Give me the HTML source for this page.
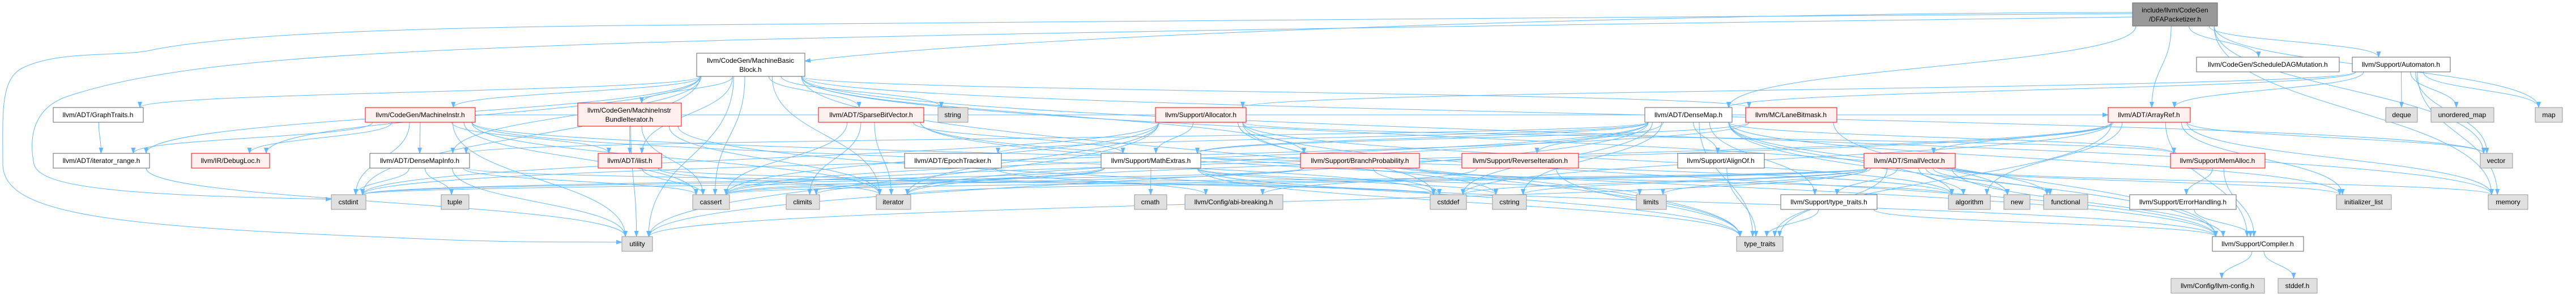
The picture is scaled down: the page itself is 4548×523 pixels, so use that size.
<!DOCTYPE html>
<html><head><meta charset="utf-8"><style>
html,body{margin:0;padding:0;background:#fff;width:4548px;height:523px;overflow:hidden}
svg text{font-family:"Liberation Sans",sans-serif;font-size:12px;fill:#000;text-anchor:middle}
</style></head><body>
<svg id="g" width="4548" height="523" viewBox="0 0 4548 523" xmlns="http://www.w3.org/2000/svg">
<defs><marker id="ah" markerUnits="userSpaceOnUse" markerWidth="11" markerHeight="8" refX="10" refY="4" orient="auto"><path d="M0,0 L11,4 L0,8 z" fill="#63b8ff"/></marker></defs>
<g fill="none" stroke="#63b8ff" stroke-width="1">
<path d="M3765,24 C3000,30 1500,40 1100,45 C700,50 400,60 260,90 C200,100 100,90 40,120 C0,140 5,200 5,290 C5,380 200,400 700,420 C900,430 1050,427 1098,428" marker-end="url(#ah)"/>
<path d="M3765,30 C3000,40 1500,60 1000,80 C600,95 300,110 120,170 C60,190 50,240 60,290 C70,330 200,345 585,352" marker-end="url(#ah)"/>
<path d="M3765,22 C3000,22 1800,60 1421,108" marker-end="url(#ah)"/>
</g>
<g id="edges" fill="none" stroke="#63b8ff" stroke-width="1"></g>
<g id="nodes">
<rect id="root" x="3765" y="5" width="150" height="41" fill="#999999" stroke="#666666"/><text x="3840" y="22">include/llvm/CodeGen</text><text x="3840" y="38">/DFAPacketizer.h</text>
<rect id="mbb" x="1230" y="94" width="191" height="41" fill="#fff" stroke="#666"/><text x="1325" y="111">llvm/CodeGen/MachineBasic</text><text x="1325" y="127">Block.h</text>
<rect id="sdm" x="3878" y="101" width="252" height="26" fill="#fff" stroke="#666"/><text x="4004" y="118">llvm/CodeGen/ScheduleDAGMutation.h</text>
<rect id="auto" x="4153" y="101" width="173" height="26" fill="#fff" stroke="#666"/><text x="4239" y="118">llvm/Support/Automaton.h</text>
<rect id="graph" x="94" y="190" width="159" height="26" fill="#fff" stroke="#666"/><text x="173" y="207">llvm/ADT/GraphTraits.h</text>
<rect id="mi" x="645" y="190" width="194" height="26" fill="#fff0f0" stroke="#ff0000"/><text x="742" y="207">llvm/CodeGen/MachineInstr.h</text>
<rect id="sbv" x="1445" y="190" width="186" height="26" fill="#fff0f0" stroke="#ff0000"/><text x="1538" y="207">llvm/ADT/SparseBitVector.h</text>
<rect id="string" x="1656" y="190" width="53" height="26" fill="#e0e0e0" stroke="#999"/><text x="1682" y="207">string</text>
<rect id="alloc" x="2040" y="190" width="160" height="26" fill="#fff0f0" stroke="#ff0000"/><text x="2120" y="207">llvm/Support/Allocator.h</text>
<rect id="dmap" x="2904" y="190" width="154" height="26" fill="#fff" stroke="#666"/><text x="2981" y="207">llvm/ADT/DenseMap.h</text>
<rect id="lane" x="3082" y="190" width="161" height="26" fill="#fff0f0" stroke="#ff0000"/><text x="3162" y="207">llvm/MC/LaneBitmask.h</text>
<rect id="aref" x="3722" y="190" width="145" height="26" fill="#fff0f0" stroke="#ff0000"/><text x="3794" y="207">llvm/ADT/ArrayRef.h</text>
<rect id="deque" x="4212" y="190" width="56" height="26" fill="#e0e0e0" stroke="#999"/><text x="4240" y="207">deque</text>
<rect id="umap" x="4292" y="190" width="111" height="26" fill="#e0e0e0" stroke="#999"/><text x="4347" y="207">unordered_map</text>
<rect id="map" x="4476" y="190" width="48" height="26" fill="#e0e0e0" stroke="#999"/><text x="4500" y="207">map</text>
<rect id="mibi" x="1020" y="182" width="183" height="41" fill="#fff0f0" stroke="#ff0000"/><text x="1111" y="199">llvm/CodeGen/MachineInstr</text><text x="1111" y="215">BundleIterator.h</text>
<rect id="itr" x="94" y="271" width="170" height="26" fill="#fff" stroke="#666"/><text x="179" y="288">llvm/ADT/iterator_range.h</text>
<rect id="dloc" x="338" y="271" width="138" height="26" fill="#fff0f0" stroke="#ff0000"/><text x="407" y="288">llvm/IR/DebugLoc.h</text>
<rect id="dmi" x="653" y="271" width="176" height="26" fill="#fff" stroke="#666"/><text x="741" y="288">llvm/ADT/DenseMapInfo.h</text>
<rect id="ilist" x="1056" y="271" width="112" height="26" fill="#fff0f0" stroke="#ff0000"/><text x="1112" y="288">llvm/ADT/ilist.h</text>
<rect id="epoch" x="1597" y="271" width="171" height="26" fill="#fff" stroke="#666"/><text x="1682" y="288">llvm/ADT/EpochTracker.h</text>
<rect id="math" x="1944" y="271" width="176" height="26" fill="#fff" stroke="#666"/><text x="2032" y="288">llvm/Support/MathExtras.h</text>
<rect id="bp" x="2296" y="271" width="210" height="26" fill="#fff0f0" stroke="#ff0000"/><text x="2401" y="288">llvm/Support/BranchProbability.h</text>
<rect id="rev" x="2581" y="271" width="206" height="26" fill="#fff0f0" stroke="#ff0000"/><text x="2684" y="288">llvm/Support/ReverseIteration.h</text>
<rect id="align" x="2962" y="271" width="153" height="26" fill="#fff" stroke="#666"/><text x="3038" y="288">llvm/Support/AlignOf.h</text>
<rect id="sv" x="3291" y="271" width="161" height="26" fill="#fff0f0" stroke="#ff0000"/><text x="3371" y="288">llvm/ADT/SmallVector.h</text>
<rect id="memalloc" x="3832" y="271" width="167" height="26" fill="#fff0f0" stroke="#ff0000"/><text x="3915" y="288">llvm/Support/MemAlloc.h</text>
<rect id="vector" x="4379" y="271" width="57" height="26" fill="#e0e0e0" stroke="#999"/><text x="4407" y="288">vector</text>
<rect id="cstdint" x="585" y="344" width="61" height="26" fill="#e0e0e0" stroke="#999"/><text x="615" y="361">cstdint</text>
<rect id="tuple" x="779" y="344" width="49" height="26" fill="#e0e0e0" stroke="#999"/><text x="803" y="361">tuple</text>
<rect id="cassert" x="1223" y="344" width="65" height="26" fill="#e0e0e0" stroke="#999"/><text x="1255" y="361">cassert</text>
<rect id="climits" x="1388" y="344" width="59" height="26" fill="#e0e0e0" stroke="#999"/><text x="1417" y="361">climits</text>
<rect id="iterator" x="1547" y="344" width="61" height="26" fill="#e0e0e0" stroke="#999"/><text x="1577" y="361">iterator</text>
<rect id="cmath" x="2003" y="344" width="57" height="26" fill="#e0e0e0" stroke="#999"/><text x="2031" y="361">cmath</text>
<rect id="abi" x="2092" y="344" width="173" height="26" fill="#e0e0e0" stroke="#999"/><text x="2178" y="361">llvm/Config/abi-breaking.h</text>
<rect id="cstddef" x="2525" y="344" width="64" height="26" fill="#e0e0e0" stroke="#999"/><text x="2557" y="361">cstddef</text>
<rect id="cstring" x="2635" y="344" width="60" height="26" fill="#e0e0e0" stroke="#999"/><text x="2665" y="361">cstring</text>
<rect id="limits" x="2889" y="344" width="53" height="26" fill="#e0e0e0" stroke="#999"/><text x="2915" y="361">limits</text>
<rect id="stt" x="3144" y="344" width="170" height="26" fill="#fff" stroke="#666"/><text x="3229" y="361">llvm/Support/type_traits.h</text>
<rect id="algo" x="3440" y="344" width="74" height="26" fill="#e0e0e0" stroke="#999"/><text x="3477" y="361">algorithm</text>
<rect id="new" x="3538" y="344" width="46" height="26" fill="#e0e0e0" stroke="#999"/><text x="3561" y="361">new</text>
<rect id="func" x="3608" y="344" width="78" height="26" fill="#e0e0e0" stroke="#999"/><text x="3647" y="361">functional</text>
<rect id="err" x="3760" y="344" width="188" height="26" fill="#fff" stroke="#666"/><text x="3854" y="361">llvm/Support/ErrorHandling.h</text>
<rect id="initl" x="4125" y="344" width="97" height="26" fill="#e0e0e0" stroke="#999"/><text x="4173" y="361">initializer_list</text>
<rect id="memory" x="4393" y="344" width="70" height="26" fill="#e0e0e0" stroke="#999"/><text x="4428" y="361">memory</text>
<rect id="utility" x="1098" y="418" width="54" height="26" fill="#e0e0e0" stroke="#999"/><text x="1125" y="435">utility</text>
<rect id="tt" x="3066" y="418" width="82" height="26" fill="#e0e0e0" stroke="#999"/><text x="3107" y="435">type_traits</text>
<rect id="comp" x="3906" y="418" width="161" height="26" fill="#fff" stroke="#666"/><text x="3986" y="435">llvm/Support/Compiler.h</text>
<rect id="cfg" x="3833" y="492" width="165" height="26" fill="#e0e0e0" stroke="#999"/><text x="3915" y="509">llvm/Config/llvm-config.h</text>
<rect id="stddef" x="4022" y="492" width="69" height="26" fill="#e0e0e0" stroke="#999"/><text x="4056" y="509">stddef.h</text>
</g>
</svg>
<script>
(function(){
var E=[
['root','sdm'],['root','auto'],['root','map'],['root','dmap'],['root','memory'],['root','vector'],['root','aref'],
['mbb','graph'],['mbb','itr'],['mbb','dloc'],['mbb','mi'],['mbb','mibi'],['mbb','ilist'],['mbb','sbv'],['mbb','string'],['mbb','bp'],['mbb','lane'],['mbb','cassert'],['mbb','cstdint'],['mbb','iterator'],['mbb','func'],['mbb','utility'],['mbb','vector'],['mbb','memory'],['mbb','dmi'],['mbb','tt'],
['mi','dmi'],['mi','itr'],['mi','dloc'],['mi','cstdint'],['mi','ilist'],['mi','cassert'],['mi','utility'],['mi','aref'],['mi','iterator'],['mi','cstddef'],['mi','algo'],
['mibi','ilist'],['mibi','cassert'],['mibi','iterator'],['mibi','tt'],['mibi','utility'],
['sbv','cassert'],['sbv','climits'],['sbv','iterator'],['sbv','math'],['sbv','cstring'],['sbv','comp'],
['alloc','math'],['alloc','cassert'],['alloc','cstddef'],['alloc','cstdint'],['alloc','memalloc'],['alloc','comp'],['alloc','algo'],['alloc','tt'],['alloc','utility'],['alloc','iterator'],
['dmap','dmi'],['dmap','epoch'],['dmap','align'],['dmap','comp'],['dmap','math'],['dmap','memalloc'],['dmap','rev'],['dmap','stt'],['dmap','algo'],['dmap','cassert'],['dmap','cstddef'],['dmap','cstring'],['dmap','initl'],['dmap','iterator'],['dmap','new'],['dmap','tt'],['dmap','utility'],
['dmi','cstdint'],['dmi','tuple'],['dmi','cassert'],['dmi','utility'],['dmi','cstddef'],
['epoch','abi'],
['math','cmath'],['math','comp'],['math','cassert'],['math','climits'],['math','cstdint'],['math','cstring'],['math','limits'],['math','tt'],
['bp','cassert'],['bp','cstdint'],['bp','algo'],['bp','cstddef'],
['rev','abi'],['rev','tt'],
['align','tt'],
['sv','stt'],['sv','algo'],['sv','new'],['sv','comp'],['sv','cassert'],['sv','cstddef'],['sv','cstdint'],['sv','cstring'],['sv','initl'],['sv','iterator'],['sv','limits'],['sv','memory'],['sv','tt'],['sv','utility'],['sv','func'],
['stt','tt'],['stt','comp'],
['aref','sv'],['aref','comp'],['aref','algo'],['aref','cassert'],['aref','cstddef'],['aref','initl'],['aref','iterator'],['aref','memory'],['aref','tt'],['aref','vector'],
['memalloc','err'],['memalloc','comp'],['err','comp'],['comp','cfg'],['comp','stddef'],
['auto','aref'],['auto','alloc'],['auto','dmap'],['auto','deque'],['auto','umap'],['auto','map'],['auto','vector'],['auto','memory'],
['lane','comp'],['lane','math'],['lane','cstdint'],
['ilist','cassert'],['ilist','cstddef'],['ilist','iterator'],
['graph','itr'],['itr','utility']
];
function B(id){var r=document.getElementById(id);if(!r)return null;var x=+r.getAttribute('x'),y=+r.getAttribute('y'),w=+r.getAttribute('width'),h=+r.getAttribute('height');return {x:x,y:y,w:w,h:h,cx:x+w/2,cy:y+h/2};}
var g=document.getElementById('edges'),s='';
E.forEach(function(e){var a=B(e[0]),b=B(e[1]);if(!a||!b)return;var d;
 if(b.y>a.y+a.h-2){
  var off=Math.max(-a.w/2+6,Math.min(a.w/2-6,(b.cx-a.cx)*0.15));
  var sx=a.cx+off,sy=a.y+a.h;
  var tx=b.cx+Math.max(-b.w/2+6,Math.min(b.w/2-6,(a.cx-b.cx)*0.1)),ty=b.y;
  var dy=ty-sy;
  d='M'+sx+','+sy+' C'+sx+','+(sy+dy*0.5)+' '+tx+','+(ty-dy*0.5)+' '+tx+','+ty;
 } else {
  var right=b.cx>a.cx;var sx=right?a.x+a.w:a.x,sy=a.cy;var tx=b.cx,ty=b.y;
  if(Math.abs(b.cy-a.cy)<5){tx=right?b.x:b.x+b.w;ty=b.cy;}
  d='M'+sx+','+sy+' C'+((sx+tx)/2)+','+sy+' '+tx+','+((sy+ty)/2)+' '+tx+','+ty;
 }
 s+='<path d="'+d+'" marker-end="url(#ah)"/>';
});
g.innerHTML=s;
})();
</script>
</body></html>
